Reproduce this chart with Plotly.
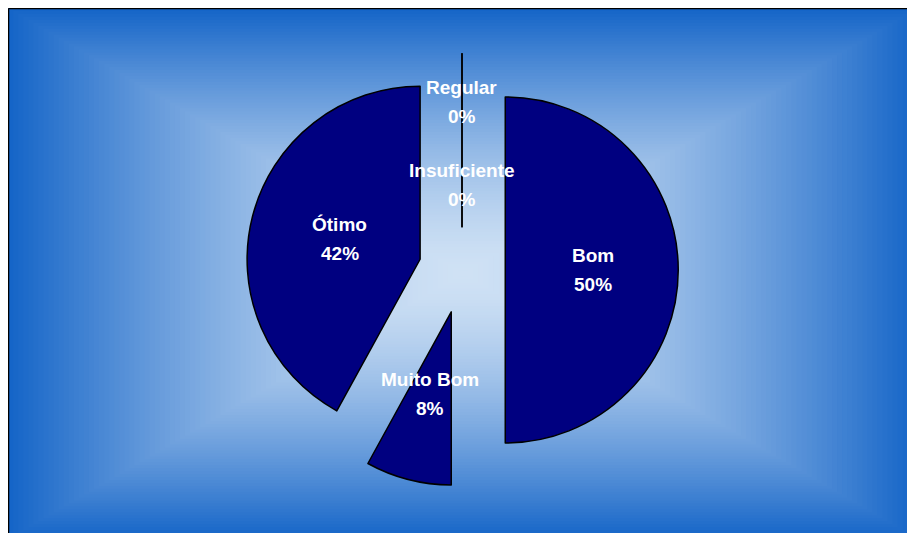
import math
import plotly.graph_objects as go

# slices, clockwise from 12 o'clock
labels = ["Bom", "Muito Bom", "Ótimo", "Insuficiente", "Regular"]
values = [50, 8, 42, 0, 0]
# how far out (fraction of radius, from the pulled slice centre) each label sits
label_depth = [0.51, 0.49, 0.48, 0.24, 0.72]

PULL = 0.25
W, H = 899, 525          # page adds an 8px body margin
PCX, PCY, R = 454, 262, 173   # pie centre / radius in figure pixels

half = R * (1 + PULL)
dom_x = [(PCX - half) / W, (PCX + half) / W]
dom_y = [1 - (PCY + half) / H, 1 - (PCY - half) / H]

fig = go.Figure()

fig.add_trace(go.Pie(
    labels=labels,
    values=values,
    sort=False,
    direction="clockwise",
    rotation=0,
    pull=PULL,
    marker=dict(colors=["#000080"] * len(labels), line=dict(color="black", width=1.5)),
    textinfo="none",
    domain=dict(x=dom_x, y=dom_y),
    showlegend=False,
    hoverinfo="label+percent",
))

# labels placed along each slice bisector
total = sum(values)
font = dict(family="Liberation Sans, Arial", size=19, color="white", weight="bold")
annotations = []
start = 0.0
for lab, v, k in zip(labels, values, label_depth):
    sweep = 360.0 * v / total
    mid = math.radians(start + sweep / 2)
    start += sweep
    d = (PULL + k) * R
    px = PCX + d * math.sin(mid)
    py = PCY - d * math.cos(mid)
    pct = "{:.0f}%".format(100.0 * v / total)
    for txt, shift in ((lab, 14.5), (pct, -14.5)):
        annotations.append(dict(
            x=px / W, y=1 - py / H, xref="paper", yref="paper",
            text=txt, showarrow=False, font=font, yshift=shift,
            xanchor="center", yanchor="middle",
        ))

# rectangular "from centre" gradient background, drawn as nested rectangles
bx0, bx1, by0, by1 = 0, 910, 0, 531
cx, cy = (bx0 + bx1) / 2, (by0 + by1) / 2
hw, hh = (bx1 - bx0) / 2, (by1 - by0) / 2
c_in = (208, 226, 245)
c_out = (21, 101, 200)
shapes = []
n = 90
for i in range(n):
    s = 1 - i / n
    t = s ** 1.5
    col = "rgb({},{},{})".format(*[int(a + (b - a) * t) for a, b in zip(c_in, c_out)])
    shapes.append(dict(
        type="rect", xref="paper", yref="paper", layer="below",
        x0=(cx - s * hw) / W, x1=(cx + s * hw) / W,
        y0=1 - (cy + s * hh) / H, y1=1 - (cy - s * hh) / H,
        fillcolor=col, line=dict(width=0),
    ))
# frame: only the left and top edges are visible in the original
for x0, y0, x1, y1 in ((0.5, 0.5, 0.5, H), (0.5, 0.5, W, 0.5)):
    shapes.append(dict(
        type="line", xref="paper", yref="paper", layer="below",
        x0=x0 / W, x1=x1 / W, y0=1 - y0 / H, y1=1 - y1 / H,
        line=dict(color="black", width=1.5),
    ))

fig.update_layout(
    width=W, height=H,
    margin=dict(l=0, r=0, t=0, b=0),
    paper_bgcolor="white",
    shapes=shapes,
    annotations=annotations,
)

fig.write_html("out.html")
